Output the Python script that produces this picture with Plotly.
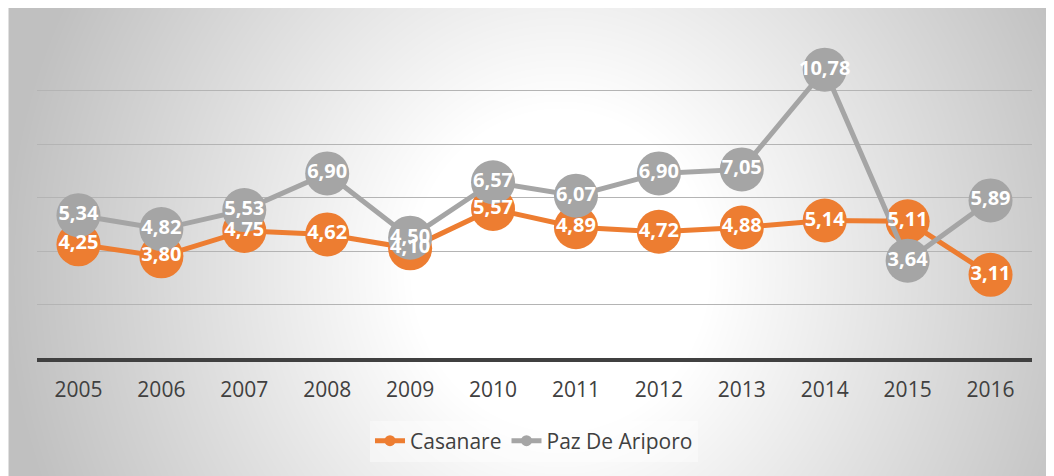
import base64
import struct
import zlib

import numpy as np
import plotly.graph_objects as go

years = ["2005", "2006", "2007", "2008", "2009", "2010", "2011", "2012", "2013", "2014", "2015", "2016"]
casanare = [4.25, 3.80, 4.75, 4.62, 4.10, 5.57, 4.89, 4.72, 4.88, 5.14, 5.11, 3.11]
paz_de_ariporo = [5.34, 4.82, 5.53, 6.90, 4.50, 6.57, 6.07, 6.90, 7.05, 10.78, 3.64, 5.89]

ORANGE = "#ED7D31"
GRAY = "#A5A5A5"
TEXT = "#404040"
OFF = 8  # page body margin
W, H = 1054 - OFF, 476 - OFF
ML, MR, MT, MB = 36.5 - OFF, 21.5, 37 - OFF, 118
PW, PH = W - ML - MR, H - MT - MB


def fmt(v):
    return f"{v:.2f}".replace(".", ",")


# Radial gradient background (chart area fill) as an inline PNG
def gradient_png(w, h):
    yy, xx = np.mgrid[0:h, 0:w].astype(float)
    cx, cy, rx, ry = 560.0 - OFF, 270.0 - OFF, 560.0, 600.0
    d = np.sqrt(((xx - cx) / rx) ** 2 + ((yy - cy) / ry) ** 2)
    t = np.clip((d - 0.27) / (1.0 - 0.27), 0, 1)
    g = (255 - 63 * t).astype(np.uint8)
    raw = b"".join(b"\x00" + g[r].tobytes() for r in range(h))

    def chunk(tag, data):
        c = struct.pack(">I", len(data)) + tag + data
        return c + struct.pack(">I", zlib.crc32(tag + data) & 0xFFFFFFFF)

    png = b"\x89PNG\r\n\x1a\n"
    png += chunk(b"IHDR", struct.pack(">IIBBBBB", w, h, 8, 0, 0, 0, 0))
    png += chunk(b"IDAT", zlib.compress(raw, 9))
    png += chunk(b"IEND", b"")
    return "data:image/png;base64," + base64.b64encode(png).decode()


img_src = gradient_png(W, H)

fig = go.Figure()

# lines + markers
fig.add_trace(go.Scatter(x=years, y=casanare, mode="lines+markers", showlegend=False,
                         line=dict(color=ORANGE, width=5),
                         marker=dict(size=44, color=ORANGE), hoverinfo="skip"))
fig.add_trace(go.Scatter(x=years, y=paz_de_ariporo, mode="lines+markers", showlegend=False,
                         line=dict(color=GRAY, width=5),
                         marker=dict(size=44, color=GRAY), hoverinfo="skip"))
# data labels on top
fig.add_trace(go.Scatter(x=years, y=paz_de_ariporo, mode="text", showlegend=False,
                         text=[fmt(v) for v in paz_de_ariporo], textposition="middle center",
                         textfont=dict(family="Open Sans", size=20, color="white", weight="bold")))
fig.add_trace(go.Scatter(x=years, y=casanare, mode="text", showlegend=False,
                         text=[fmt(v) for v in casanare], textposition="middle center",
                         textfont=dict(family="Open Sans", size=20, color="white", weight="bold")))
# legend entries
fig.add_trace(go.Scatter(x=[None], y=[None], mode="lines+markers", name="Casanare",
                         line=dict(color=ORANGE, width=5), marker=dict(size=11, color=ORANGE)))
fig.add_trace(go.Scatter(x=[None], y=[None], mode="lines+markers", name="Paz De Ariporo",
                         line=dict(color=GRAY, width=5), marker=dict(size=11, color=GRAY)))

fig.update_layout(
    width=W, height=H,
    margin=dict(l=ML, r=MR, t=MT, b=MB, pad=0, autoexpand=False),
    paper_bgcolor="white",
    plot_bgcolor="rgba(0,0,0,0)",
    font=dict(family="Open Sans", color=TEXT, size=21),
    showlegend=True,
    legend=dict(orientation="h", x=(534 - OFF - ML) / PW, xanchor="center",
                y=-(441 - 358) / PH, yanchor="middle",
                bgcolor="rgba(255,255,255,0.4)", font=dict(size=21, color=TEXT),
                itemwidth=30, tracegroupgap=0),
    images=[dict(source=img_src, xref="paper", yref="paper",
                 x=-ML / PW, y=(H - MB) / PH,
                 sizex=W / PW, sizey=H / PH,
                 xanchor="left", yanchor="top", sizing="stretch", layer="below")],
    xaxis=dict(type="category", range=[-0.5, len(years) - 0.5], autorange=False,
               showgrid=False, showline=True, linecolor=TEXT, linewidth=4,
               ticks="outside", ticklen=10, tickcolor="rgba(0,0,0,0)", automargin=False,
               tickfont=dict(size=21, color=TEXT), fixedrange=True),
    yaxis=dict(range=[0, 12], dtick=2, showgrid=True, gridcolor="#b4b4b4", gridwidth=1,
               zeroline=False, showticklabels=False, fixedrange=True, automargin=False),
)

fig.write_html("out.html")
